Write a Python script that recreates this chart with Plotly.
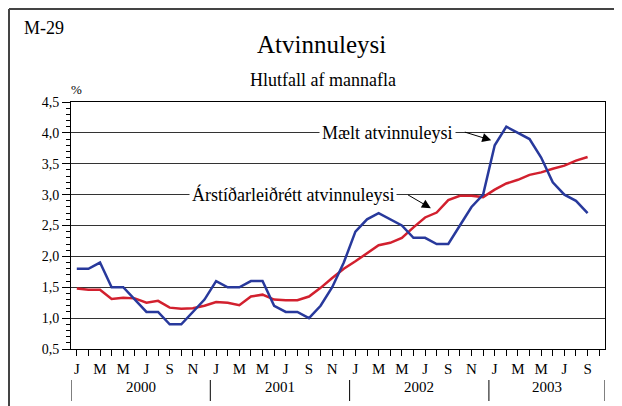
import plotly.graph_objects as go

# Mánaðarleg gögn jan 2000 - sep 2003
months = list(range(45))
maelt = [1.8, 1.8, 1.9, 1.5, 1.5, 1.3, 1.1, 1.1, 0.9, 0.9, 1.1, 1.3,
         1.6, 1.5, 1.5, 1.6, 1.6, 1.2, 1.1, 1.1, 1.0, 1.2, 1.5, 1.9,
         2.4, 2.6, 2.7, 2.6, 2.5, 2.3, 2.3, 2.2, 2.2, 2.5, 2.8, 3.0,
         3.8, 4.1, 4.0, 3.9, 3.6, 3.2, 3.0, 2.9, 2.7]
arstidarleidrett = [1.48, 1.46, 1.46, 1.31, 1.33, 1.32, 1.25, 1.28, 1.17, 1.15, 1.16, 1.20,
                    1.26, 1.25, 1.21, 1.35, 1.38, 1.30, 1.29, 1.29, 1.35, 1.49, 1.65, 1.80,
                    1.92, 2.05, 2.18, 2.22, 2.30, 2.47, 2.63, 2.71, 2.91, 2.98, 2.98, 2.96,
                    3.08, 3.18, 3.24, 3.32, 3.36, 3.42, 3.47, 3.55, 3.61]
month_letters = ["J", "", "M", "", "M", "", "J", "", "S", "", "N", ""]
years = ["2000", "2001", "2002", "2003"]
year_bounds = [-0.5, 11.5, 23.5, 35.5, 45.5]

# síðan hefur 8px spássíu í vafranum
OFF = 8
W, H = 622 - OFF, 406 - OFF
L, R, T, B = 71 - OFF, 605 - OFF, 102 - OFF, 349 - OFF
FONT = "Liberation Serif, Times New Roman, serif"

def px(x):
    return (x - OFF - L) / (R - L)

def py(y):
    return (B - (y - OFF)) / (B - T)

tickvals = list(range(46))
ticktext = [month_letters[i % 12] for i in tickvals]

fig = go.Figure()
fig.add_trace(go.Scatter(x=months, y=arstidarleidrett, mode="lines",
                         line=dict(color="#d2202e", width=2.5), name="Árstíðarleiðrétt"))
fig.add_trace(go.Scatter(x=months, y=maelt, mode="lines",
                         line=dict(color="#28399c", width=2.5), name="Mælt"))

shapes = []
# ártalaskil
for b in year_bounds:
    shapes.append(dict(type="line", xref="x", yref="paper", x0=b, x1=b,
                       y0=py(380), y1=py(401), line=dict(color="black", width=1)))
# ytri rammi
shapes.append(dict(type="line", xref="paper", yref="paper", x0=px(9), x1=px(640),
                   y0=py(9), y1=py(9), line=dict(color="#444", width=2)))
shapes.append(dict(type="line", xref="paper", yref="paper", x0=px(9), x1=px(9),
                   y0=py(9), y1=py(430), line=dict(color="#444", width=2)))

def label(x, y, text, size, xref="paper", yref="paper", **kw):
    return dict(x=x, y=y, xref=xref, yref=yref, text=text, showarrow=False,
                xanchor="center", yanchor="middle",
                font=dict(size=size, color="black", family=FONT), **kw)

annotations = []
for k, yr in enumerate(years):
    annotations.append(label((year_bounds[k] + year_bounds[k + 1]) / 2, py(387), yr, 15, xref="x"))
annotations += [
    label(px(321), py(45), "Atvinnuleysi", 25),
    label(px(323), py(80), "Hlutfall af mannafla", 18),
    label(px(44), py(28), "M-29", 18),
    label(px(76), py(89), "%", 13),
    label(387.5, 4.0, "Mælt atvinnuleysi", 18, yref="y", bgcolor="white", borderpad=2),
    label(292.5, 3.0, "Árstíðarleiðrétt atvinnuleysi", 18, yref="y", bgcolor="white", borderpad=2),
    dict(x=35.7, y=3.88, ax=33.3, ay=4.02, xref="x", yref="y", axref="x", ayref="y",
         text="", showarrow=True, arrowhead=2, arrowsize=1.8, arrowwidth=1, arrowcolor="black"),
    dict(x=30.5, y=2.78, ax=28.4, ay=3.01, xref="x", yref="y", axref="x", ayref="y",
         text="", showarrow=True, arrowhead=2, arrowsize=1.8, arrowwidth=1, arrowcolor="black"),
]
# textinn fyrir línuheitin í pixlum -> paper
annotations[-4]["x"] = px(387.5)
annotations[-3]["x"] = px(292.5)

fig.update_layout(
    width=W, height=H,
    margin=dict(l=L, r=W - R, t=T, b=H - B),
    paper_bgcolor="white", plot_bgcolor="white",
    showlegend=False,
    separators=", ",
    font=dict(family=FONT, size=14, color="black"),
    shapes=shapes, annotations=annotations,
    xaxis=dict(range=[-0.5, 45.5], tickmode="array", tickvals=tickvals, ticktext=ticktext,
               ticks="outside", ticklen=6, tickcolor="black", showgrid=False, zeroline=False,
               showline=True, linecolor="black", linewidth=1, mirror=True,
               tickfont=dict(size=15, family=FONT, color="black")),
    yaxis=dict(range=[0.5, 4.5], dtick=0.5, tick0=0.5, tickformat=".1f",
               ticks="outside", ticklen=8, tickcolor="black",
               minor=dict(dtick=0.1, ticks="outside", ticklen=4, tickcolor="black", showgrid=False),
               showgrid=True, gridcolor="#333", gridwidth=1, zeroline=False,
               showline=True, linecolor="black", linewidth=1, mirror=True,
               tickfont=dict(size=14, family=FONT, color="black")),
)

fig.write_html("out.html")
